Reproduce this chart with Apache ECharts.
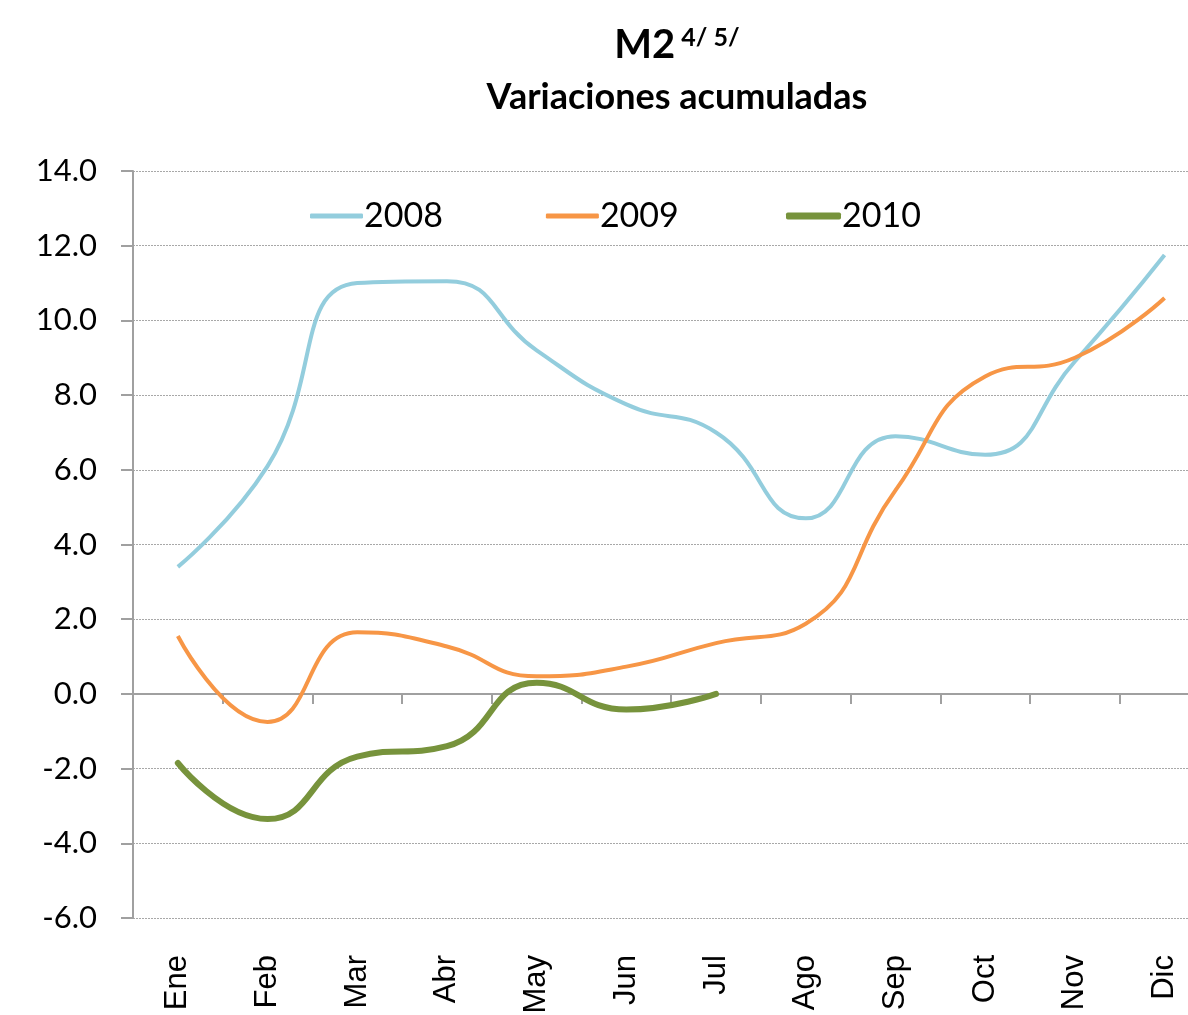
<!DOCTYPE html>
<html>
<head>
<meta charset="utf-8">
<script src="https://cdn.jsdelivr.net/npm/echarts@6/dist/echarts.min.js"></script>
<style>html,body{margin:0;padding:0;background:#fff;}#c{width:1188px;height:1015px;}</style>
</head>
<body>
<div id="c"></div>
<script>
const categories = ['Ene','Feb','Mar','Abr','May','Jun','Jul','Ago','Sep','Oct','Nov','Dic'];
const s2008 = [3.4, 6.1, 11.0, 11.05, 9.2, 7.75, 7.0, 4.7, 6.9, 6.4, 8.9, 11.75];
const s2009 = [1.55, -0.75, 1.65, 1.27, 0.47, 0.73, 1.36, 1.88, 5.45, 8.5, 9.0, 10.6];
const s2010 = [-1.85, -3.35, -1.68, -1.4, 0.3, -0.42, 0.0];
const seriesNames = ['2008', '2009', '2010'];

const chart = echarts.init(document.getElementById('c'));
const font = 'Lato, "Open Sans", sans-serif';
const legendText = {fontFamily: font, fontSize: 34, color: '#000', padding: [0,0,0,-4]};
chart.setOption({
  animation: false,
  backgroundColor: '#fff',
  title: [
    {
      text: '{a|M2}{b| 4/ 5/}',
      left: 672, top: 20, textAlign: 'center',
      textStyle: {
        rich: {
          a: {fontFamily: font, fontWeight: 'bold', fontSize: 40, color: '#000'},
          b: {fontFamily: font, fontWeight: 'bold', fontSize: 25, color: '#000', padding: [0,0,16,0]}
        }
      }
    },
    {
      text: 'Variaciones acumuladas',
      left: 672, top: 74, textAlign: 'center',
      textStyle: {fontFamily: font, fontWeight: 'bold', fontSize: 36, color: '#000'}
    }
  ],
  legend: [
    {
      data: seriesNames.slice(0, 2),
      left: 305, top: 194,
      icon: 'roundRect',
      itemWidth: 53, itemHeight: 5, itemGap: 103,
      textStyle: legendText
    },
    {
      data: seriesNames.slice(2),
      left: 781, top: 194,
      icon: 'roundRect',
      itemWidth: 55, itemHeight: 7,
      textStyle: legendText
    }
  ],
  grid: {left: 133, top: 171, width: 1076.4, bottom: 97, containLabel: false, outerBoundsMode: 'none'},
  xAxis: [
    {
      type: 'category', data: categories, boundaryGap: true,
      axisLine: {show: false, onZero: false}, axisTick: {show: false},
      axisLabel: {rotate: 90, margin: 37, fontFamily: '"Liberation Sans", Arial, sans-serif', fontSize: 31, color: '#000'}
    },
    {
      type: 'category', data: categories, boundaryGap: true, position: 'bottom',
      axisLine: {show: true, onZero: true, lineStyle: {color: '#a0a0a0', width: 2}},
      axisTick: {show: true, length: 10, lineStyle: {color: '#a0a0a0', width: 2}},
      axisLabel: {show: false}
    }
  ],
  yAxis: {
    type: 'value', min: -6, max: 14, interval: 2,
    axisLine: {show: true, lineStyle: {color: '#a0a0a0', width: 2}},
    axisTick: {show: true, length: 12, lineStyle: {color: '#a0a0a0', width: 2}},
    axisLabel: {margin: 36, fontFamily: font, fontSize: 31, color: '#000', formatter: v => v.toFixed(1)},
    splitLine: {show: true, lineStyle: {color: '#a8a8a8', type: [2, 1], width: 1}}
  },
  series: [
    {name: '2008', type: 'line', data: s2008, smooth: 0.5, symbol: 'none', lineStyle: {color: '#93CDDD', width: 4}, itemStyle: {color: '#93CDDD'}},
    {name: '2009', type: 'line', data: s2009, smooth: 0.5, symbol: 'none', lineStyle: {color: '#F79646', width: 4}, itemStyle: {color: '#F79646'}},
    {name: '2010', type: 'line', data: s2010, smooth: 0.5, symbol: 'none', lineStyle: {color: '#77933C', width: 6, cap: 'round'}, itemStyle: {color: '#77933C'}}
  ]
});
</script>
</body>
</html>
